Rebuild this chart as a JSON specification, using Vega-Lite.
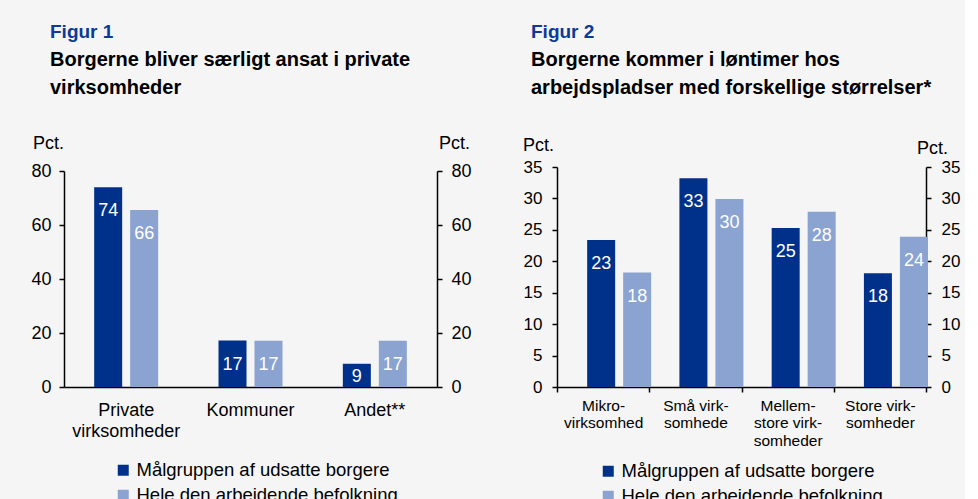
{
  "$schema": "https://vega.github.io/schema/vega-lite/v6.json",
  "background": "#f5f5f5",
  "padding": {"left": 30, "top": 23, "right": 5, "bottom": 0},
  "datasets": {
    "fig1": [
      {"kategori": "Private virksomheder", "gruppe": "Målgruppen af udsatte borgere", "pct": 74.0},
      {"kategori": "Private virksomheder", "gruppe": "Hele den arbejdende befolkning", "pct": 65.6},
      {"kategori": "Kommuner", "gruppe": "Målgruppen af udsatte borgere", "pct": 17.2},
      {"kategori": "Kommuner", "gruppe": "Hele den arbejdende befolkning", "pct": 17.1},
      {"kategori": "Andet**", "gruppe": "Målgruppen af udsatte borgere", "pct": 8.6},
      {"kategori": "Andet**", "gruppe": "Hele den arbejdende befolkning", "pct": 17.1}
    ],
    "fig2": [
      {"kategori": "Mikrovirksomhed", "gruppe": "Målgruppen af udsatte borgere", "pct": 23.4},
      {"kategori": "Mikrovirksomhed", "gruppe": "Hele den arbejdende befolkning", "pct": 18.2},
      {"kategori": "Små virksomhede", "gruppe": "Målgruppen af udsatte borgere", "pct": 33.2},
      {"kategori": "Små virksomhede", "gruppe": "Hele den arbejdende befolkning", "pct": 29.9},
      {"kategori": "Mellemstore virksomheder", "gruppe": "Målgruppen af udsatte borgere", "pct": 25.3},
      {"kategori": "Mellemstore virksomheder", "gruppe": "Hele den arbejdende befolkning", "pct": 27.9},
      {"kategori": "Store virksomheder", "gruppe": "Målgruppen af udsatte borgere", "pct": 18.1},
      {"kategori": "Store virksomheder", "gruppe": "Hele den arbejdende befolkning", "pct": 23.9}
    ]
  },
  "config": {
    "font": "Liberation Sans",
    "view": {"stroke": null},
    "axis": {
      "domainColor": "black", "tickColor": "black", "labelColor": "black", "titleColor": "black",
      "grid": false, "domainWidth": 1.5, "tickWidth": 1.5, "tickSize": 5,
      "labelFont": "Liberation Sans", "titleFont": "Liberation Sans", "titleFontWeight": "normal"
    },
    "legend": {
      "symbolType": "square", "symbolSize": 121, "symbolStrokeWidth": 0,
      "labelFontSize": 18.5, "labelColor": "black", "labelFont": "Liberation Sans",
      "labelOffset": 4, "rowPadding": 6, "labelLimit": 400
    },
    "title": {
      "font": "Liberation Sans", "fontSize": 19, "fontWeight": "bold", "color": "#0b3b96",
      "subtitleFont": "Liberation Sans", "subtitleFontSize": 20, "subtitleFontWeight": "bold",
      "subtitleColor": "black", "subtitleLineHeight": 28, "subtitlePadding": 7.5, "anchor": "start", "frame": "group"
    }
  },
  "spacing": 50,
  "resolve": {"legend": {"color": "independent"}},
  "hconcat": [
    {
      "width": 373,
      "height": 220,
      "title": {"text": "Figur 1", "subtitle": ["Borgerne bliver særligt ansat i private", "virksomheder"], "dx": -14, "offset": 36.5},
      "data": {"name": "fig1"},
      "encoding": {
        "x": {
          "field": "kategori", "type": "nominal",
          "sort": ["Private virksomheder", "Kommuner", "Andet**"],
          "scale": {"paddingInner": 0, "paddingOuter": 0},
          "axis": {
            "title": null, "labelAngle": 0, "ticks": false, "labelFontSize": 18, "labelPadding": 14,
            "labelLineHeight": 21,
            "labelExpr": "datum.value == 'Private virksomheder' ? ['Private', 'virksomheder'] : datum.value"
          }
        },
        "xOffset": {
          "field": "gruppe", "type": "nominal",
          "sort": ["Målgruppen af udsatte borgere", "Hele den arbejdende befolkning"],
          "scale": {"paddingInner": 0.222, "paddingOuter": 0.838}
        }
      },
      "layer": [
        {
          "mark": {"type": "bar"},
          "encoding": {
            "y": {
              "field": "pct", "type": "quantitative", "scale": {"domain": [0, 80], "range": [220, 4]},
              "axis": {
                "orient": "left", "values": [0, 20, 40, 60, 80], "labelFontSize": 18, "labelPadding": 8,
                "title": "Pct.", "titleAngle": 0, "titleFontSize": 18, "titleX": -16, "titleY": -19,
                "titleAlign": "center", "titleBaseline": "alphabetic"
              }
            },
            "color": {
              "field": "gruppe", "type": "nominal",
              "scale": {"domain": ["Målgruppen af udsatte borgere", "Hele den arbejdende befolkning"], "range": ["#00318a", "#8aa3d0"]},
              "legend": {"title": null, "orient": "none", "legendX": 50, "legendY": 294, "direction": "vertical"}
            }
          }
        },
        {
          "transform": [{"filter": "datum.pct >= 12"}],
          "mark": {"type": "text", "baseline": "middle", "dy": 24, "color": "white", "fontSize": 18},
          "encoding": {
            "y": {
              "field": "pct", "type": "quantitative", "scale": {"domain": [0, 80], "range": [220, 4]},
              "axis": {
                "orient": "right", "values": [0, 20, 40, 60, 80], "labelFontSize": 18, "labelPadding": 9,
                "title": "Pct.", "titleAngle": 0, "titleFontSize": 18, "titleX": 17, "titleY": -19,
                "titleAlign": "center", "titleBaseline": "alphabetic"
              }
            },
            "text": {"field": "pct", "type": "quantitative", "format": ".0f"}
          }
        },
        {
          "transform": [{"filter": "datum.pct < 12"}],
          "mark": {"type": "text", "baseline": "middle", "dy": 13, "color": "white", "fontSize": 18},
          "encoding": {
            "y": {"field": "pct", "type": "quantitative", "scale": {"domain": [0, 80], "range": [220, 4]}, "axis": null},
            "text": {"field": "pct", "type": "quantitative", "format": ".0f"}
          }
        }
      ],
      "resolve": {"axis": {"y": "independent"}}
    },
    {
      "width": 369,
      "height": 220,
      "title": {"text": "Figur 2", "subtitle": ["Borgerne kommer i løntimer hos", "arbejdspladser med forskellige størrelser*"], "dx": -26, "offset": 38.5},
      "data": {"name": "fig2"},
      "encoding": {
        "x": {
          "field": "kategori", "type": "nominal",
          "sort": ["Mikrovirksomhed", "Små virksomhede", "Mellemstore virksomheder", "Store virksomheder"],
          "scale": {"paddingInner": 0, "paddingOuter": 0},
          "axis": {
            "title": null, "labelAngle": 0, "ticks": true, "tickBand": "extent", "labelFontSize": 15.5, "labelPadding": 6,
            "labelLineHeight": 17.5,
            "labelExpr": "datum.value == 'Mikrovirksomhed' ? ['Mikro-', 'virksomhed'] : datum.value == 'Små virksomhede' ? ['Små virk-', 'somhede'] : datum.value == 'Mellemstore virksomheder' ? ['Mellem-', 'store virk-', 'somheder'] : datum.value == 'Store virksomheder' ? ['Store virk-', 'somheder'] : ''"
          }
        },
        "xOffset": {
          "field": "gruppe", "type": "nominal",
          "sort": ["Målgruppen af udsatte borgere", "Hele den arbejdende befolkning"],
          "scale": {"paddingInner": 0.231, "paddingOuter": 0.885}
        }
      },
      "layer": [
        {
          "mark": {"type": "bar"},
          "encoding": {
            "y": {
              "field": "pct", "type": "quantitative", "scale": {"domain": [0, 35]},
              "axis": {
                "orient": "left", "values": [0, 5, 10, 15, 20, 25, 30, 35], "labelFontSize": 17, "labelPadding": 10,
                "title": "Pct.", "titleAngle": 0, "titleFontSize": 18, "titleX": -19, "titleY": -17,
                "titleAlign": "center", "titleBaseline": "alphabetic"
              }
            },
            "color": {
              "field": "gruppe", "type": "nominal",
              "scale": {"domain": ["Målgruppen af udsatte borgere", "Hele den arbejdende befolkning"], "range": ["#00318a", "#8aa3d0"]},
              "legend": {"title": null, "orient": "none", "legendX": 42, "legendY": 295, "direction": "vertical"}
            }
          }
        },
        {
          "mark": {"type": "text", "baseline": "middle", "dy": 24, "color": "white", "fontSize": 18},
          "encoding": {
            "y": {
              "field": "pct", "type": "quantitative", "scale": {"domain": [0, 35]},
              "axis": {
                "orient": "right", "values": [0, 5, 10, 15, 20, 25, 30, 35], "labelFontSize": 17, "labelPadding": 10,
                "title": "Pct.", "titleAngle": 0, "titleFontSize": 18, "titleX": 6, "titleY": -14,
                "titleAlign": "center", "titleBaseline": "alphabetic"
              }
            },
            "text": {"field": "pct", "type": "quantitative", "format": ".0f"}
          }
        }
      ],
      "resolve": {"axis": {"y": "independent"}}
    }
  ]
}
